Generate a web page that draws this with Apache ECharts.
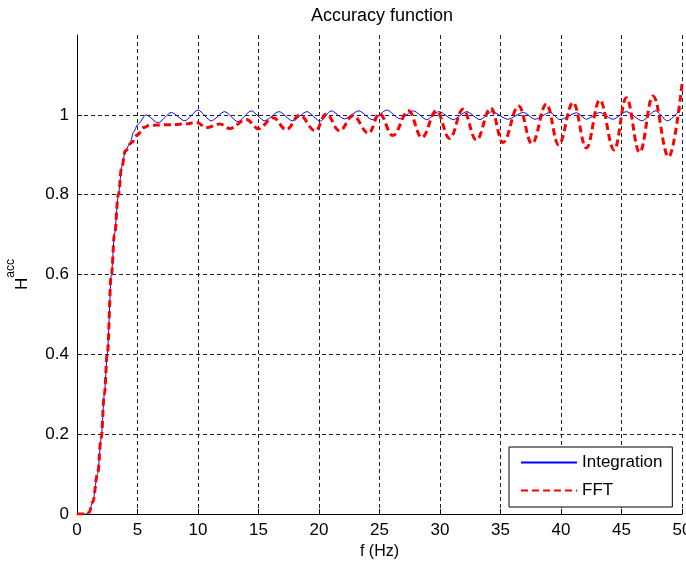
<!DOCTYPE html>
<html>
<head>
<meta charset="utf-8">
<script src="https://cdn.jsdelivr.net/npm/echarts@6/dist/echarts.min.js"></script>
<style>
html,body{margin:0;padding:0;background:#fff;}
#chart{width:686px;height:565px;}
</style>
</head>
<body>
<div id="chart"></div>
<script>
// Integration curve (f in Hz, H^acc)
const intFreq = [0, 0.8, 1.0, 1.3, 1.7, 2.0, 2.26, 2.5, 2.84, 3.1, 3.42, 3.7, 4.0, 4.4, 4.66, 5.0, 5.7, 6.7, 7.8, 8.9, 10.0, 11.1, 12.2, 13.3, 14.4, 15.5, 16.7, 17.8, 19.0, 20.1, 21.0, 22.1, 23.3, 24.4, 25.6, 26.7, 27.8, 28.9, 29.9, 31.1, 32.2, 33.3, 34.3, 35.6, 36.9, 37.85, 39.1, 39.9, 41.3, 42.1, 43.2, 44.3, 45.4, 46.7, 47.8, 48.8, 50];
const intVal  = [0, 0, 0.004, 0.03, 0.1, 0.19, 0.3, 0.4, 0.6, 0.7, 0.8, 0.87, 0.91, 0.93, 0.956, 0.975, 1.0, 0.98, 1.006, 0.985, 1.012, 0.985, 1.008, 0.983, 1.01, 0.985, 1.008, 0.985, 1.008, 0.984, 1.01, 0.99, 1.01, 0.988, 1.012, 0.99, 1.01, 0.988, 1.008, 0.988, 1.008, 0.988, 1.008, 0.989, 1.006, 0.989, 1.006, 0.988, 1.005, 0.989, 1.006, 0.989, 1.008, 0.985, 1.01, 0.985, 1.0175];
// FFT curve
const fftFreq = [0, 0.8, 1.0, 1.3, 1.7, 2.0, 2.26, 2.5, 2.84, 3.1, 3.42, 3.7, 4.0, 4.5, 5.0, 5.5, 6.0, 7.6, 8.9, 9.9, 10.7, 11.8, 12.6, 14.0, 15.0, 16.2, 17.3, 18.4, 19.7, 20.6, 21.7, 22.8, 24.1, 25.0, 26.1, 27.4, 28.5, 29.7, 30.8, 31.9, 33.0, 34.2, 35.2, 36.5, 37.6, 38.8, 39.8, 41.0, 42.1, 43.2, 44.4, 45.4, 46.5, 47.6, 48.9, 50];
const fftVal  = [0, 0, 0.004, 0.03, 0.1, 0.19, 0.3, 0.4, 0.6, 0.7, 0.8, 0.87, 0.91, 0.93, 0.95, 0.968, 0.974, 0.975, 0.977, 0.981, 0.968, 0.977, 0.966, 0.988, 0.965, 0.993, 0.963, 0.999, 0.96, 1.002, 0.96, 0.998, 0.954, 1.003, 0.948, 1.01, 0.943, 1.01, 0.941, 1.014, 0.937, 1.017, 0.931, 1.022, 0.928, 1.027, 0.925, 1.031, 0.917, 1.037, 0.912, 1.043, 0.906, 1.047, 0.895, 1.077];
const seriesNames = ['Integration', 'FFT'];

const pair = (xs, ys) => xs.map((x, i) => [x, ys[i]]);
const FONT = 'Liberation Sans, Arial, sans-serif';
const gridDash = { color: '#222', width: 1, type: [4, 3] };

const chart = echarts.init(document.getElementById('chart'), null, { renderer: 'canvas' });
chart.setOption({
  backgroundColor: '#fff',
  animation: false,
  title: {
    text: 'Accuracy function',
    left: 377, top: 2, textAlign: 'center',
    textStyle: { fontFamily: FONT, fontSize: 18, fontWeight: 'normal', color: '#000' }
  },
  grid: { left: 77, right: 4, top: 35, bottom: 51, containLabel: false, outerBoundsMode: 'none' },
  legend: {
    orient: 'vertical',
    left: 509, top: 447,
    width: 165,
    padding: [7, 10, 8, 11],
    itemWidth: 56, itemHeight: 14, itemGap: 11,
    backgroundColor: '#fff',
    borderColor: '#000', borderWidth: 1, borderRadius: 0,
    itemStyle: { opacity: 0 },
    textStyle: { fontFamily: FONT, fontSize: 17, color: '#000' },
    data: seriesNames
  },
  xAxis: {
    type: 'value', min: 0, max: 50, interval: 5,
    name: 'f (Hz)', nameLocation: 'middle', nameGap: 30,
    nameTextStyle: { fontFamily: FONT, fontSize: 16, color: '#000' },
    axisLine: { onZero: false, lineStyle: { color: '#000', width: 1 } },
    axisTick: { inside: true, length: 5, lineStyle: { color: '#000' } },
    axisLabel: { fontFamily: FONT, fontSize: 17, color: '#000', margin: 8 },
    splitLine: { show: true, lineStyle: gridDash }
  },
  yAxis: {
    type: 'value', min: 0, max: 1.2, interval: 0.2,
    name: '{h|H}{s|acc}', nameLocation: 'middle', nameGap: 46, nameRotate: 90,
    nameTextStyle: {
      fontFamily: FONT, color: '#000',
      rich: {
        h: { fontFamily: FONT, fontSize: 17, color: '#000', verticalAlign: 'bottom', lineHeight: 26 },
        s: { fontFamily: FONT, fontSize: 12, color: '#000', verticalAlign: 'top', lineHeight: 26 }
      }
    },
    axisLine: { show: true, lineStyle: { color: '#000', width: 1 } },
    axisTick: { show: true, inside: true, length: 5, lineStyle: { color: '#000' } },
    axisLabel: { fontFamily: FONT, fontSize: 17, color: '#000', margin: 8, showMaxLabel: false },
    splitLine: { show: true, showMaxLine: false, lineStyle: gridDash }
  },
  series: [
    {
      name: seriesNames[0], type: 'line', data: pair(intFreq, intVal),
      symbol: 'none', smooth: 0.25, smoothMonotone: 'x',
      lineStyle: { color: '#0000ff', width: 1, type: 'solid' },
      itemStyle: { color: '#0000ff' }, z: 3
    },
    {
      name: seriesNames[1], type: 'line', data: pair(fftFreq, fftVal),
      symbol: 'none', smooth: 0.4, smoothMonotone: 'x',
      lineStyle: { color: '#ff0000', width: 3, type: [7, 4] },
      itemStyle: { color: '#ff0000' }, z: 4
    }
  ]
});
</script>
</body>
</html>
